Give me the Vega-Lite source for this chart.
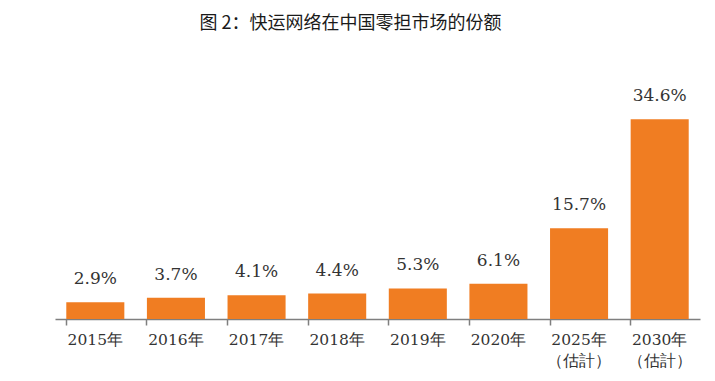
{
  "$schema": "https://vega.github.io/schema/vega-lite/v6.json",
  "width": 645,
  "height": 231,
  "autosize": {"type": "none"},
  "padding": {"left": 55, "top": 88, "right": 15, "bottom": 62},
  "background": "white",
  "title": {
    "text": "图 2：快运网络在中国零担市场的份额",
    "font": "Noto Sans CJK SC",
    "fontSize": 18,
    "fontWeight": "normal",
    "color": "#1a1a1a",
    "anchor": "middle",
    "dx": -27,
    "offset": 54
  },
  "data": {
    "values": [
      {"year": "2015年", "share": 2.9, "label": "2.9%"},
      {"year": "2016年", "share": 3.7, "label": "3.7%"},
      {"year": "2017年", "share": 4.1, "label": "4.1%"},
      {"year": "2018年", "share": 4.4, "label": "4.4%"},
      {"year": "2019年", "share": 5.3, "label": "5.3%"},
      {"year": "2020年", "share": 6.1, "label": "6.1%"},
      {"year": "2025年|（估計）", "share": 15.7, "label": "15.7%"},
      {"year": "2030年|（估計）", "share": 34.6, "label": "34.6%"}
    ]
  },
  "encoding": {
    "x": {
      "field": "year",
      "type": "nominal",
      "sort": null,
      "scale": {"paddingInner": 0.28, "paddingOuter": 0.14},
      "axis": {
        "title": null,
        "labelAngle": 0,
        "labelExpr": "split(datum.label, '|')",
        "labelFont": "DejaVu Serif",
        "labelFontSize": 15.5,
        "labelColor": "#333333",
        "labelPadding": 7,
        "labelLineHeight": 21,
        "bandPosition": 0,
        "ticks": true,
        "tickSize": 6,
        "tickColor": "#7f7f7f",
        "tickWidth": 1.5,
        "domainColor": "#7f7f7f",
        "domainWidth": 1.5,
        "grid": false
      }
    },
    "y": {
      "field": "share",
      "type": "quantitative",
      "scale": {"domain": [0, 40]},
      "axis": null
    }
  },
  "layer": [
    {"mark": {"type": "bar", "color": "#F07D22"}},
    {
      "mark": {
        "type": "text",
        "font": "DejaVu Serif",
        "fontSize": 17,
        "color": "#333333",
        "baseline": "alphabetic",
        "dy": -18
      },
      "encoding": {"text": {"field": "label"}}
    },
    {
      "data": {"values": [{"year": "2030年|（估計）"}]},
      "mark": {"type": "rule", "color": "#7f7f7f", "strokeWidth": 1.5},
      "encoding": {
        "x": {"field": "year", "type": "nominal", "bandPosition": 1},
        "y": {"datum": 0},
        "y2": {"datum": -0.9}
      }
    }
  ],
  "config": {"view": {"stroke": null}}
}
